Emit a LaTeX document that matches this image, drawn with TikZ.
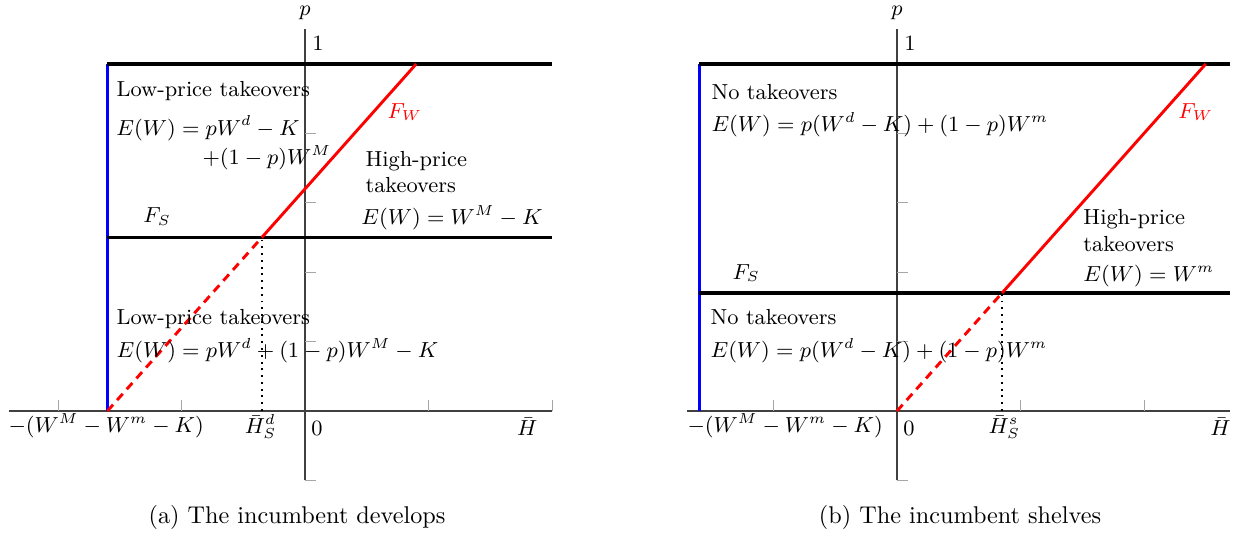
\documentclass[tikz,border=0pt]{standalone}
\usepackage{tikz}
\usetikzlibrary{positioning}

\begin{document}
\begin{tikzpicture}[
    x=51pt, y=143.3pt,
    every node/.style={font=\small, inner sep=0pt},
    axisline/.style={black!75, line width=0.5pt},
    tickmark/.style={gray!70, line width=0.4pt},
    border/.style={black, line width=1.3pt},
    fwline/.style={red, line width=1.2pt},
    fwdash/.style={red, line width=1.2pt, dash pattern=on 3.5pt off 2.5pt},
    fsline/.style={blue, line width=0.9pt},
    guide/.style={black, line width=0.8pt, dotted},
    regtext/.style={anchor=base west},
    axtext/.style={anchor=base},
    caption/.style={anchor=base, font=\normalsize}
]
\useasboundingbox (-2.470,-0.366) rectangle (7.587,1.1844);

% (a) develops
\draw[axisline] (-2.4,0) -- (2,0);
\draw[axisline] (0,-0.2) -- (0,1.1);
\foreach \x in {-2,-1,1,2} \draw[tickmark] (\x,0) -- (\x,0.032);
\foreach \y in {-0.2,0.2,0.4,0.6,0.8} \draw[tickmark] (0,\y) -- (0.089,\y);

\coordinate (a-base) at (-1.6,0);
\coordinate (a-top) at (-1.6,1);
\coordinate (a-mid) at (-1.6,0.5);
\coordinate (a-kink) at (-0.35,0.5);
\coordinate (a-foot) at (-0.35,0);
\coordinate (a-end) at (0.9,1);

\draw[fsline] (a-base) -- (a-top);
\draw[border] (a-top) -- (2,1);
\draw[border] (a-mid) -- (2,0.5);
\draw[fwdash] (a-base) -- (a-kink);
\draw[fwline] (a-kink) -- (a-end);
\draw[guide] (a-foot) -- (a-kink);

\node[regtext] (a-lowtitle) at (-1.530,0.905) {Low-price takeovers};
\node[regtext] (a-loweq) at (-1.531,0.795) {$E(W) = pW^d - K$};
\node[regtext] (a-loweqb) at (-0.834,0.709) {$+(1-p)W^M$};
\node[regtext, red] (a-fw) at (0.664,0.844) {$F_W$};
\node[regtext] (a-hightitle) at (0.486,0.706) {High-price};
\node[regtext] (a-hightitleb) at (0.486,0.631) {takeovers};
\node[regtext] (a-higheq) at (0.453,0.536) {$E(W) = W^M - K$};
\node[regtext] (a-fs) at (-1.312,0.542) {$F_S$};
\node[regtext] (a-bottitle) at (-1.530,0.248) {Low-price takeovers};
\node[regtext] (a-boteq) at (-1.530,0.153) {$E(W) = pW^d + (1-p)W^M - K$};

\node[regtext] (a-xmin) at (-2.405,-0.063) {$-(W^M - W^m - K)$};
\node[axtext] (a-hs) at (-0.36,-0.066) {$\bar{H}_S^d$};
\node[axtext] (a-zero) at (0.097,-0.072) {$0$};
\node[axtext] (a-hbar) at (1.80,-0.072) {$\bar{H}$};
\node[axtext] (a-one) at (0.105,1.040) {$1$};
\node[axtext] (a-p) at (0,1.141) {$p$};
\node[caption] (a-caption) at (-0.065,-0.323) {(a) The incumbent develops};

% (b) shelves
\begin{scope}[shift={(4.7935,0)}]
\draw[axisline] (-1.7,0) -- (2.7,0);
\draw[axisline] (0,-0.2) -- (0,1.1);
\foreach \x in {-1,1,2} \draw[tickmark] (\x,0) -- (\x,0.032);
\foreach \y in {-0.2,0.2,0.4,0.6,0.8} \draw[tickmark] (0,\y) -- (0.089,\y);

\coordinate (b-base) at (-1.6,0);
\coordinate (b-top) at (-1.6,1);
\coordinate (b-mid) at (-1.6,0.34);
\coordinate (b-origin) at (0,0);
\coordinate (b-kink) at (0.85,0.34);
\coordinate (b-foot) at (0.85,0);
\coordinate (b-end) at (2.5,1);

\draw[fsline] (b-base) -- (b-top);
\draw[border] (b-top) -- (2.7,1);
\draw[border] (b-mid) -- (2.7,0.34);
\draw[fwdash] (b-origin) -- (b-kink);
\draw[fwline] (b-kink) -- (b-end);
\draw[guide] (b-foot) -- (b-kink);

\node[regtext] (b-notitle) at (-1.506,0.899) {No takeovers};
\node[regtext] (b-noeq) at (-1.506,0.804) {$E(W) = p(W^d - K) + (1-p)W^m$};
\node[regtext, red] (b-fw) at (2.275,0.844) {$F_W$};
\node[regtext] (b-hightitle) at (1.506,0.536) {High-price};
\node[regtext] (b-hightitleb) at (1.506,0.461) {takeovers};
\node[regtext] (b-higheq) at (1.506,0.372) {$E(W) = W^m$};
\node[regtext] (b-fs) at (-1.336,0.380) {$F_S$};
\node[regtext] (b-bottitle) at (-1.514,0.248) {No takeovers};
\node[regtext] (b-boteq) at (-1.514,0.153) {$E(W) = p(W^d - K) + (1-p)W^m$};

\node[regtext] (b-xmin) at (-1.70,-0.063) {$-(W^M - W^m - K)$};
\node[axtext] (b-hs) at (0.87,-0.066) {$\bar{H}_S^s$};
\node[axtext] (b-zero) at (0.097,-0.072) {$0$};
\node[axtext] (b-hbar) at (2.62,-0.072) {$\bar{H}$};
\node[axtext] (b-one) at (0.105,1.040) {$1$};
\node[axtext] (b-p) at (0,1.141) {$p$};
\node[caption] (b-caption) at (0.51,-0.323) {(b) The incumbent shelves};
\end{scope}
\end{tikzpicture}
\end{document}
